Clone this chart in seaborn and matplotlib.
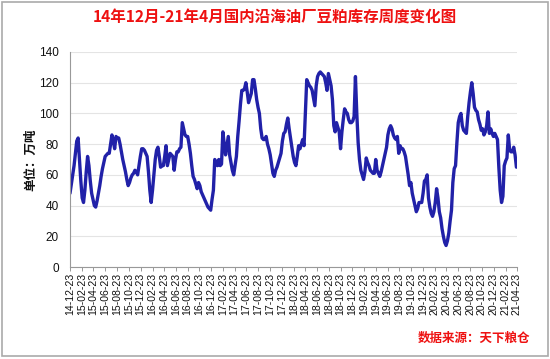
import numpy as np
import pandas as pd
import matplotlib
matplotlib.use("Agg")
import matplotlib.pyplot as plt
import matplotlib.dates as mdates
import seaborn as sns

# Weekly soybean-meal stocks at coastal crushers (10k tonnes), from 2014-12-23
start_date = "2014-12-23"
stocks = [
    48, 54, 60, 66, 74, 82, 84, 70, 56, 45,
    42, 50, 62, 72, 66, 56, 48, 44, 40, 39,
    43, 48, 53, 59, 64, 68, 72, 73, 74, 74,
    80, 86, 82, 77, 85, 84, 84, 80, 75, 70,
    66, 62, 57, 53, 55, 58, 60, 61, 63, 62,
    60, 66, 72, 77, 77, 76, 74, 72, 62, 50,
    42, 50, 60, 70, 76, 78, 72, 65, 66, 66,
    72, 79, 66, 70, 74, 73, 72, 63, 70, 75,
    75, 77, 78, 94, 90, 86, 85, 85, 80, 74,
    66, 59, 57, 54, 51, 55, 53, 49, 47, 45,
    43, 41, 39, 38, 37, 44, 50, 70, 68, 66,
    70, 66, 67, 88, 80, 73, 79, 85, 73, 68,
    63, 60, 66, 72, 85, 95, 106, 115, 115, 116,
    120, 114, 107, 110, 113, 122, 122, 116, 109, 104,
    100, 90, 84, 83, 83, 85, 80, 77, 73, 67,
    61, 59, 63, 65, 68, 71, 74, 82, 87, 88,
    93, 97, 90, 84, 78, 72, 68, 66, 72, 79,
    77, 80, 83, 79, 100, 122, 120, 118, 117, 115,
    110, 105, 118, 124, 126, 127, 126, 125, 124, 120,
    115, 126, 122, 118, 109, 92, 88, 94, 91, 88,
    77, 88, 96, 103, 101, 100, 96, 94, 94, 95,
    98, 124, 100, 81, 70, 63, 60, 57, 62, 71,
    68, 66, 63, 62, 61, 61, 70, 63, 61, 59,
    62, 66, 70, 74, 78, 86, 90, 92, 90, 86,
    84, 83, 85, 74, 79, 77, 77, 75, 72, 66,
    60, 53, 55, 48, 44, 40, 36, 38, 42, 42,
    42, 48, 56, 57, 60, 45, 39, 35, 33, 36,
    42, 51, 45, 36, 32, 25, 20, 16, 14, 17,
    22, 30, 37, 55, 64, 66, 81, 94, 98, 100,
    92, 89, 88, 87, 98, 107, 114, 120, 113, 104,
    102, 101, 96, 93, 89, 90, 86, 88, 92, 101,
    87, 90, 87, 85, 87, 85, 83, 65, 50, 42,
    46, 66, 69, 71, 86, 76, 75, 75, 78, 73, 65,
]
tick_dates = pd.date_range("2014-12-23", "2021-04-23", freq=pd.DateOffset(months=2))
tick_labels = [d.strftime("%y-%m-%d") for d in tick_dates]
y_ticks = [0, 20, 40, 60, 80, 100, 120, 140]

title = "14年12月-21年4月国内沿海油厂豆粕库存周度变化图"
ylabel = "单位：万吨"
source = "数据来源：天下粮仓"

dates = pd.date_range(start_date, periods=len(stocks), freq="7D")
df = pd.DataFrame({"date": dates, "stock": stocks})

sns.set_theme(style="white")
plt.rcParams["font.family"] = ["Noto Sans CJK SC", "DejaVu Sans"]

fig = plt.figure(figsize=(5.5, 3.59), dpi=100)
ax = fig.add_axes([70 / 550, 1 - 267 / 359, 447 / 550, 215 / 359])

sns.lineplot(data=df, x="date", y="stock", ax=ax, color="#2121A8", linewidth=2.4)

ax.set_ylim(0, 140)
ax.set_yticks(y_ticks)
ax.set_xlim(tick_dates[0], tick_dates[-1])
ax.set_xticks(tick_dates)
ax.set_xticklabels(tick_labels, rotation=90, fontsize=7.6, color="#111111",
                   family=["Liberation Sans", "DejaVu Sans"])
ax.tick_params(axis="x", length=3, width=0.6, color="#888888", pad=1, bottom=True)
ax.tick_params(axis="y", length=0, labelsize=8.5, labelcolor="#111111", pad=8)
for lab in ax.get_yticklabels():
    lab.set_family(["Liberation Sans", "DejaVu Sans"])
ax.grid(axis="y", color="#e4e4e4", linewidth=0.8)
ax.set_axisbelow(True)
for s in ["top", "right"]:
    ax.spines[s].set_visible(False)
for s in ["left", "bottom"]:
    ax.spines[s].set_color("#999999")
    ax.spines[s].set_linewidth(0.8)
ax.set_xlabel("")
ax.set_ylabel(ylabel, fontsize=9, fontweight="bold", color="#111111")
ax.yaxis.set_label_coords(-0.074, 0.5)

fig.text(0.5, 1 - 17 / 359, title, ha="center", va="center", fontsize=11.2,
         fontweight="bold", color="#EE1111")
fig.text(474 / 550, 1 - 338 / 359, source, ha="center", va="center", fontsize=9,
         color="#EE1111", style="italic", fontweight="bold")

fig.patches.append(plt.Rectangle((0.004, 0.008), 0.992, 0.986, transform=fig.transFigure,
                                 fill=False, edgecolor="#aaaaaa", linewidth=1.2))

fig.savefig("out.png", dpi=100)
